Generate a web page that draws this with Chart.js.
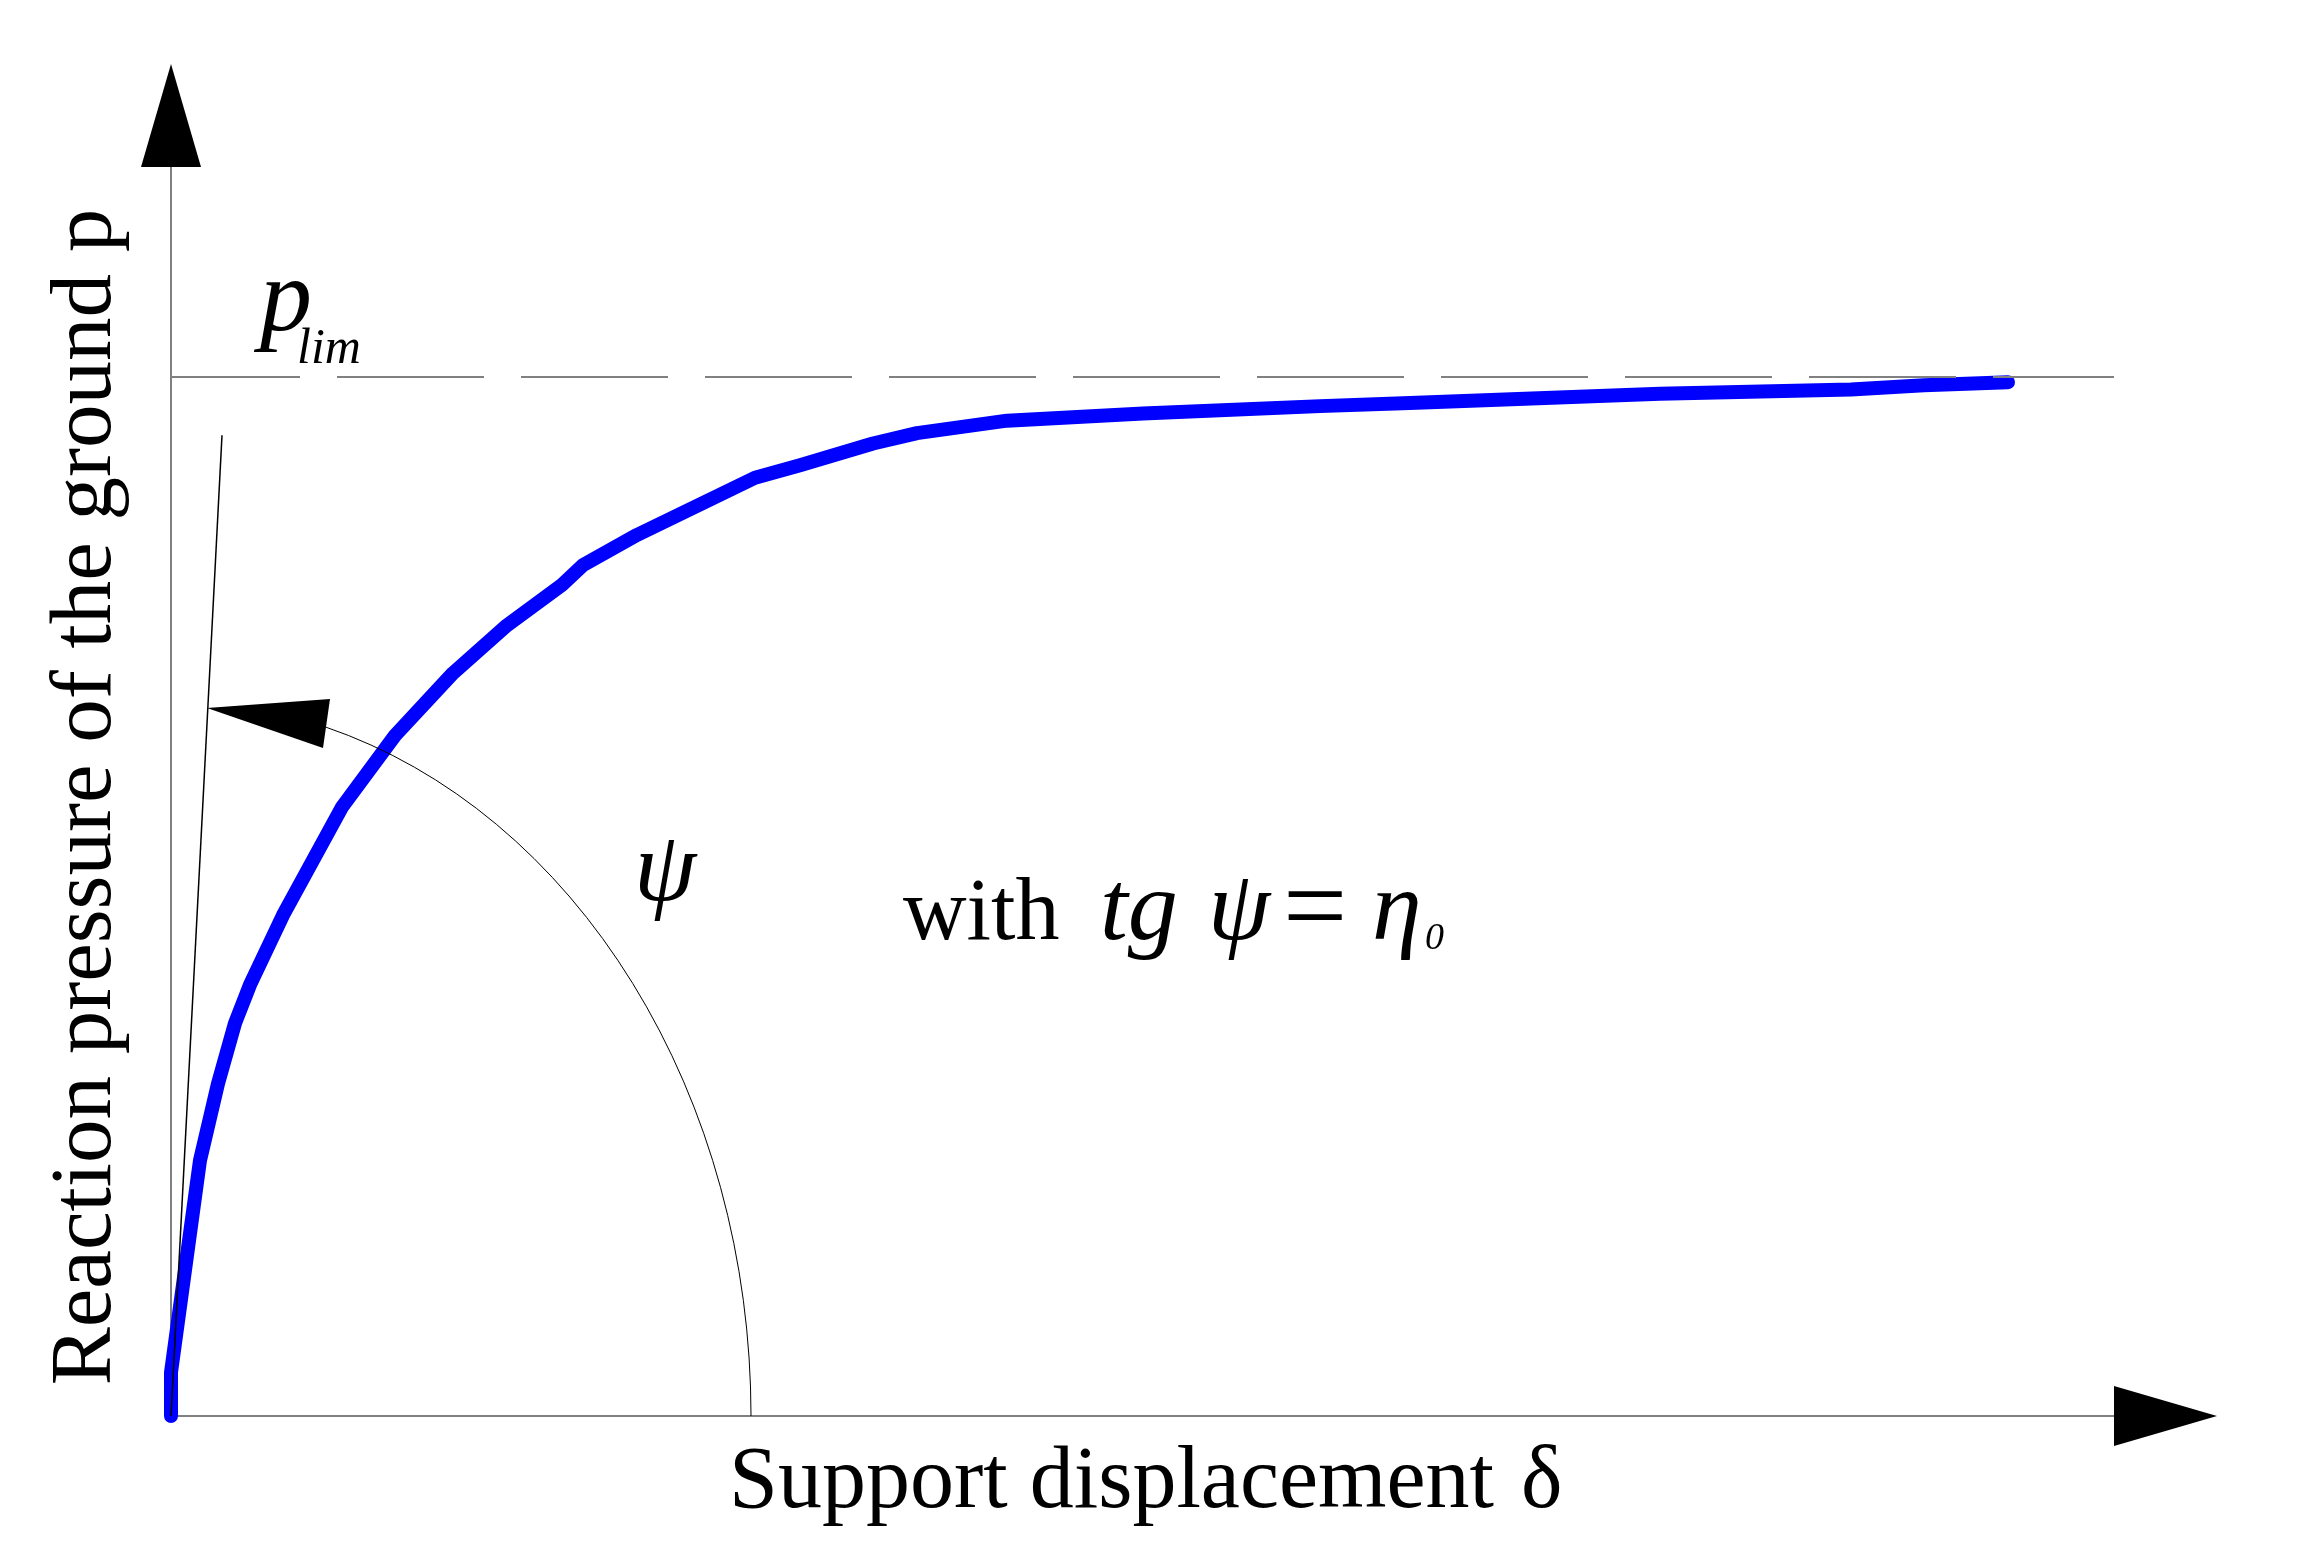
<!DOCTYPE html>
<html>
<head>
<meta charset="utf-8">
<title>Reaction pressure vs support displacement</title>
<script src="https://cdn.jsdelivr.net/npm/chart.js@4.4.1/dist/chart.umd.min.js"></script>
<style>
  html, body { margin: 0; padding: 0; background: #fff; }
  canvas { display: block; }
</style>
</head>
<body>
<canvas id="curveChart" width="2304" height="1560"></canvas>
<script>
// data (arbitrary units, p_lim = 1)
const displacement = [0, 0, 1.45, 2.35, 3.2, 3.95, 5.6, 8.55, 11.2, 14.1, 16.8, 19.55, 20.6, 23.3,
  29.2, 31.45, 35.1, 37.3, 41.8, 48.6, 57.45, 61.95, 74.45, 84.0, 87.65, 91.85];
const pressure = [0, 0.042, 0.246, 0.32, 0.378, 0.415, 0.482, 0.586, 0.655, 0.715, 0.761, 0.8, 0.819, 0.848,
  0.903, 0.915, 0.936, 0.946, 0.958, 0.965, 0.972, 0.975, 0.984, 0.988, 0.992, 0.995];
const pLim = 1.0;
const xMax = 102.3;
const yMax = 1.3013;
const dashEnd = 97.15;          // end of the p_lim line
const tangentTop = [2.55, 0.944];  // initial slope line, tg psi = eta0
const arcRadius = [29, 0.688];     // angle arc, x and y radius
const arcEnd = [7.8, 0.667];       // where arc meets the arrowhead
const arrowTip = [1.8, 0.6815];
const arrowBase = [[7.95, 0.6902], [7.6, 0.6429]];

const SERIF = '"Liberation Serif", "Times New Roman", serif';

const points = displacement.map((d, i) => ({ x: d, y: pressure[i] }));

function px(chart, x, y) {
  return [chart.scales.x.getPixelForValue(x), chart.scales.y.getPixelForValue(y)];
}

const axesPlugin = {
  id: 'axesPlugin',
  beforeDatasetsDraw(chart) {
    const ctx = chart.ctx;
    const [ox, oy] = px(chart, 0, 0);
    const [tx] = px(chart, xMax, 0);
    const [, ty] = px(chart, 0, yMax);
    ctx.save();
    ctx.strokeStyle = '#808080';
    ctx.lineWidth = 2;
    ctx.beginPath();
    ctx.moveTo(ox, oy);
    ctx.lineTo(tx - 103, oy);
    ctx.moveTo(ox, oy);
    ctx.lineTo(ox, ty + 103);
    ctx.stroke();

    // arrowheads
    ctx.fillStyle = '#000';
    ctx.beginPath();
    ctx.moveTo(tx, oy);
    ctx.lineTo(tx - 103, oy - 30);
    ctx.lineTo(tx - 103, oy + 30);
    ctx.closePath();
    ctx.fill();
    ctx.beginPath();
    ctx.moveTo(ox, ty);
    ctx.lineTo(ox - 30, ty + 103);
    ctx.lineTo(ox + 30, ty + 103);
    ctx.closePath();
    ctx.fill();
    ctx.restore();
  }
};

const notesPlugin = {
  id: 'notesPlugin',
  afterDatasetsDraw(chart) {
    const ctx = chart.ctx;
    const [ox, oy] = px(chart, 0, 0);
    ctx.save();

    // p_lim dashed line
    const [lx, ly] = px(chart, dashEnd, pLim);
    ctx.strokeStyle = '#808080';
    ctx.lineWidth = 2;
    ctx.setLineDash([147, 37]);
    ctx.lineDashOffset = 18;
    ctx.beginPath();
    ctx.moveTo(ox, ly);
    ctx.lineTo(lx, ly);
    ctx.stroke();
    ctx.setLineDash([]);

    // tangent line
    const [gx, gy] = px(chart, tangentTop[0], tangentTop[1]);
    ctx.strokeStyle = '#000';
    ctx.lineWidth = 1.5;
    ctx.beginPath();
    ctx.moveTo(ox, oy);
    ctx.lineTo(gx, gy);
    ctx.stroke();

    // angle arc
    const rx = px(chart, arcRadius[0], 0)[0] - ox;
    const ry = oy - px(chart, 0, arcRadius[1])[1];
    const [ex, ey] = px(chart, arcEnd[0], arcEnd[1]);
    const endAngle = Math.atan2((ey - oy) / ry, (ex - ox) / rx);
    ctx.lineWidth = 1;
    ctx.beginPath();
    ctx.ellipse(ox, oy, rx, ry, 0, endAngle, 0);
    ctx.stroke();

    // arrowhead on the arc
    const a = px(chart, arrowTip[0], arrowTip[1]);
    const b = px(chart, arrowBase[0][0], arrowBase[0][1]);
    const c = px(chart, arrowBase[1][0], arrowBase[1][1]);
    ctx.fillStyle = '#000';
    ctx.beginPath();
    ctx.moveTo(a[0], a[1]);
    ctx.lineTo(b[0], b[1]);
    ctx.lineTo(c[0], c[1]);
    ctx.closePath();
    ctx.fill();

    // texts
    ctx.fillStyle = '#000';
    ctx.textBaseline = 'alphabetic';
    ctx.textAlign = 'left';
    ctx.font = 'italic 104px ' + SERIF;
    ctx.fillText('p', 260, 330);
    ctx.font = 'italic 50px ' + SERIF;
    ctx.fillText('lim', 297, 363);

    ctx.font = 'italic 100px ' + SERIF;
    ctx.fillText('\u03C8', 634, 900);

    ctx.font = '88px ' + SERIF;
    ctx.fillText('with', 903, 939);
    ctx.font = 'italic 100px ' + SERIF;
    ctx.fillText('tg', 1100, 939);
    ctx.fillText('\u03C8', 1208, 939);
    ctx.font = '114px ' + SERIF;
    ctx.fillText('=', 1283, 944);
    ctx.font = 'italic 100px ' + SERIF;
    ctx.fillText('\u03B7', 1372, 939);
    ctx.font = 'italic 38px ' + SERIF;
    ctx.fillText('0', 1425, 949);

    ctx.font = '88px ' + SERIF;
    ctx.fillText('Support displacement', 729, 1507);
    ctx.fillText('\u03B4', 1521, 1507);

    ctx.translate(110, 797);
    ctx.rotate(-Math.PI / 2);
    ctx.textAlign = 'center';
    ctx.font = '87px ' + SERIF;
    ctx.fillText('Reaction pressure of the ground p', 0, 0);
    ctx.restore();
  }
};

const canvas = document.getElementById('curveChart');
new Chart(canvas.getContext('2d'), {
  type: 'line',
  data: {
    datasets: [{
      data: points,
      borderColor: '#0000FF',
      borderWidth: 14,
      borderCapStyle: 'round',
      borderJoinStyle: 'round',
      pointRadius: 0,
      tension: 0,
      fill: false,
      clip: false
    }]
  },
  options: {
    responsive: false,
    devicePixelRatio: 1,
    animation: false,
    layout: { padding: { left: 171, right: 87, top: 64, bottom: 144 } },
    plugins: {
      legend: { display: false },
      tooltip: { enabled: false }
    },
    scales: {
      x: { type: 'linear', min: 0, max: xMax, display: false },
      y: { type: 'linear', min: 0, max: yMax, display: false }
    }
  },
  plugins: [axesPlugin, notesPlugin]
});
</script>
</body>
</html>
